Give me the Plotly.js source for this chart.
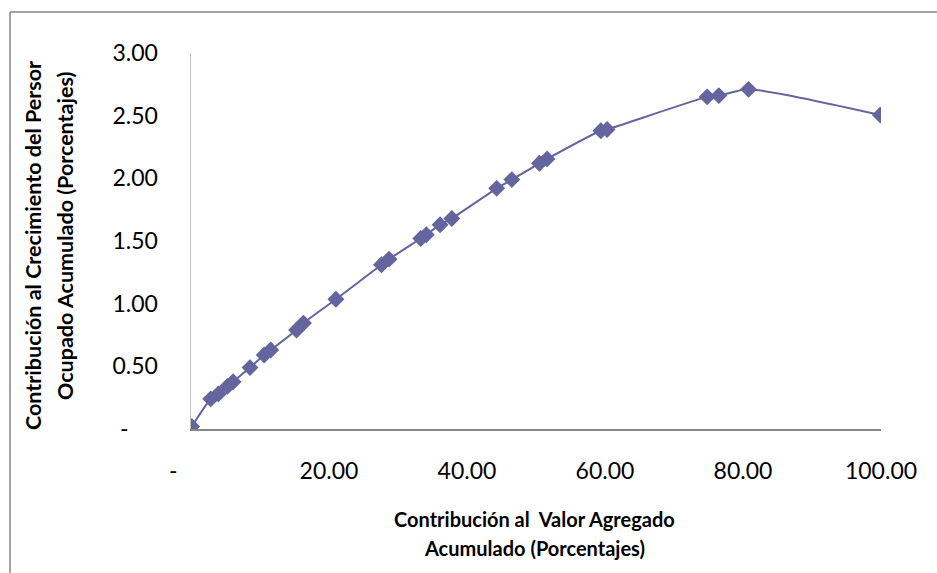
<!DOCTYPE html>
<html>
<head>
<meta charset="utf-8">
<script src="https://cdn.plot.ly/plotly-3.0.1.min.js"></script>
<style>html,body{margin:0;padding:0;background:#fff;}#chart{width:937px;height:573px;}</style>
</head>
<body>
<div id="chart"></div>
<script>
// Contribución al Valor Agregado Acumulado (%)
var valorAgregado = [0.1, 2.85, 3.96, 5.27, 6.1, 8.55, 10.6, 11.55, 15.3, 16.3, 21.0, 27.6, 28.7, 33.3, 34.1, 36.1, 37.8, 44.3, 46.5, 50.5, 51.6, 59.4, 60.3, 74.8, 76.5, 80.8, 99.9];
// Contribución al Crecimiento del Personal Ocupado Acumulado (%)
var personalOcupado = [0.02, 0.24, 0.28, 0.34, 0.377, 0.49, 0.59, 0.63, 0.79, 0.845, 1.035, 1.31, 1.355, 1.52, 1.55, 1.63, 1.68, 1.92, 1.99, 2.12, 2.155, 2.38, 2.39, 2.65, 2.66, 2.71, 2.505];

var xTickVals = [0, 20, 40, 60, 80, 100];
var xTickText = ['-\u00a0\u00a0\u00a0\u00a0\u00a0\u00a0', '20.00', '40.00', '60.00', '80.00', '100.00'];
var yTickVals = [0, 0.5, 1, 1.5, 2, 2.5, 3];
var yTickText = ['-\u00a0\u00a0\u00a0\u00a0\u00a0', '0.50', '1.00', '1.50', '2.00', '2.50', '3.00'];

var xTitle1 = 'Contribución al\u00a0 Valor Agregado';
var xTitle2 = 'Acumulado (Porcentajes)';
var yTitle1 = 'Contribución al Crecimiento del Persor';
var yTitle2 = 'Ocupado Acumulado (Porcentajes)';

var W = 937, H = 573;
var L = 191, R = 56, T = 53, B = 144;
var pw = W - L - R, ph = H - T - B;
function px(xp) { return (xp - L) / pw; }
function py(yp) { return (H - B - yp) / ph; }

var color = '#64649e';
var trace = {
  x: valorAgregado, y: personalOcupado,
  type: 'scatter', mode: 'lines+markers',
  line: {color: color, width: 2, shape: 'spline', smoothing: 0.6},
  marker: {symbol: 'diamond', size: 13, color: color},
  hoverinfo: 'x+y'
};
var tickFont = {family: 'Lato, sans-serif', size: 23, color: '#000'};
var titleFont = {family: 'Lato, sans-serif', size: 20, color: '#000', weight: 'bold'};
var yTitleFont = {family: 'Lato, sans-serif', size: 21.5, color: '#000', weight: 'bold'};

var layout = {
  width: W, height: H,
  margin: {l: L, r: R, t: T, b: B, pad: 0},
  paper_bgcolor: '#fff', plot_bgcolor: '#fff',
  showlegend: false,
  xaxis: {
    range: [0, 100], tickvals: xTickVals, ticktext: xTickText,
    showgrid: false, zeroline: false, showline: true, linecolor: '#868686', linewidth: 1.5,
    ticks: '', tickfont: tickFont, ticklabelstandoff: 21, fixedrange: true
  },
  yaxis: {
    range: [0, 3], tickvals: yTickVals, ticktext: yTickText,
    showgrid: false, zeroline: false, showline: true, linecolor: '#bfbfbf', linewidth: 1.5,
    ticks: '', tickfont: tickFont, ticklabelstandoff: 27, fixedrange: true
  },
  shapes: [
    {type: 'line', xref: 'paper', yref: 'paper', x0: px(10), x1: px(937), y0: py(12), y1: py(12), line: {color: '#868686', width: 1.5}},
    {type: 'line', xref: 'paper', yref: 'paper', x0: px(10), x1: px(10), y0: py(12), y1: py(573), line: {color: '#868686', width: 1.5}}
  ],
  annotations: [
    {xref: 'paper', yref: 'paper', x: px(534), y: py(519), text: xTitle1, showarrow: false, xanchor: 'center', yanchor: 'middle', font: titleFont},
    {xref: 'paper', yref: 'paper', x: px(534), y: py(548), text: xTitle2, showarrow: false, xanchor: 'center', yanchor: 'middle', font: titleFont},
    {xref: 'paper', yref: 'paper', x: px(33), y: py(246), text: yTitle1, showarrow: false, textangle: -90, xanchor: 'center', yanchor: 'middle', font: yTitleFont},
    {xref: 'paper', yref: 'paper', x: px(65), y: py(236), text: yTitle2, showarrow: false, textangle: -90, xanchor: 'center', yanchor: 'middle', font: yTitleFont}
  ]
};
Plotly.newPlot('chart', [trace], layout, {displayModeBar: false, staticPlot: true});
</script>
</body>
</html>
